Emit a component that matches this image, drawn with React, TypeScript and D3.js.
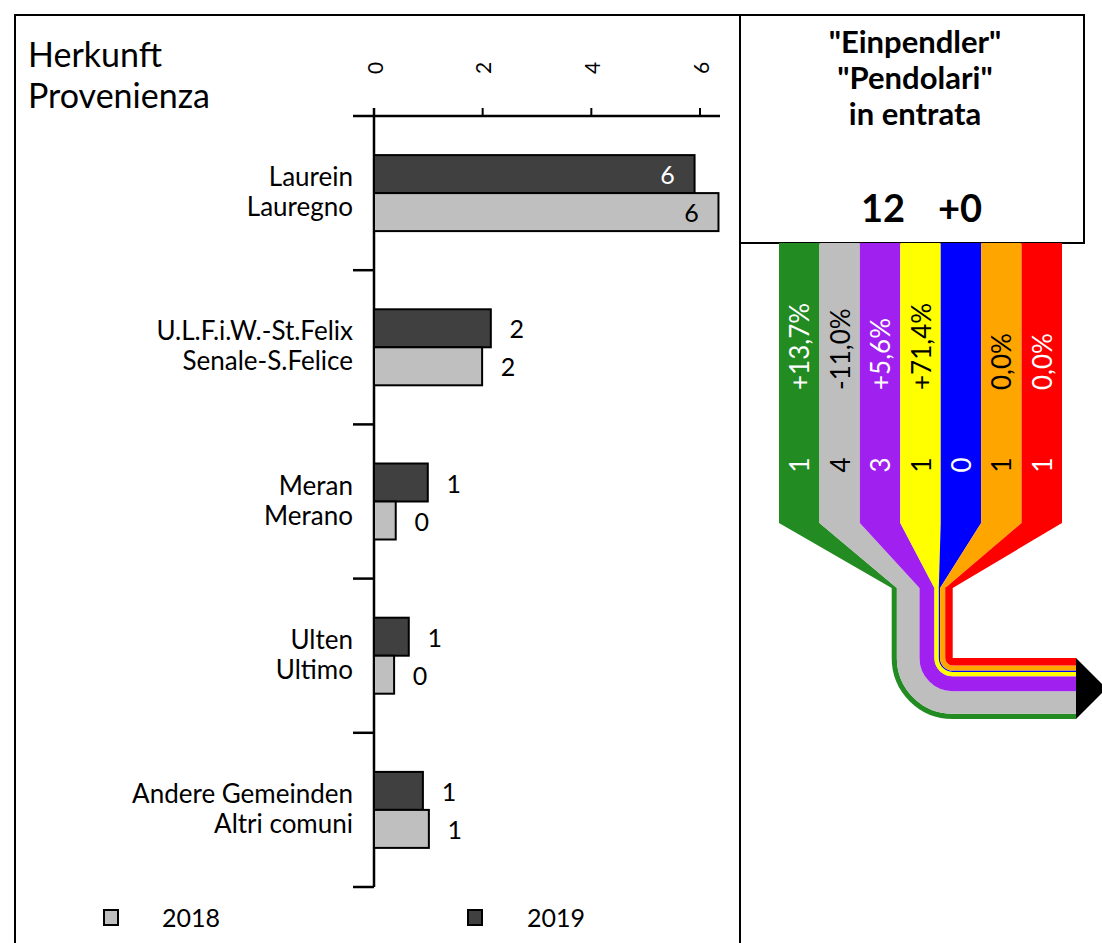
import * as d3 from 'd3';

// Herkunft / Provenienza – bar values (2019 dark, 2018 light)
const categoriesDe = ['Laurein', 'U.L.F.i.W.-St.Felix', 'Meran', 'Ulten', 'Andere Gemeinden'];
const categoriesIt = ['Lauregno', 'Senale-S.Felice', 'Merano', 'Ultimo', 'Altri comuni'];
const values2019 = [5.9, 2.15, 0.99, 0.64, 0.9];
const values2018 = [6.34, 1.99, 0.4, 0.37, 1.01];
const axisTicks = [0, 2, 4, 6];

// Einpendler streams
const streamColors = ['#228B22', '#BEBEBE', '#A020F0', '#FFFF00', '#0000FF', '#FFA500', '#FF0000'];
const streamText = ['white', 'black', 'white', 'black', 'white', 'black', 'white'];
const streamChange = ['+13,7%', '-11,0%', '+5,6%', '+71,4%', '', '0,0%', '0,0%'];
const streamCount = [1, 4, 3, 1, 0, 1, 1];
const streamFlow = [1.0, 4.4, 2.9, 0.85, 0.25, 1.0, 1.45];
const headerLines = ['"Einpendler"', '"Pendolari"', 'in entrata'];
const headerTotal = '12';
const headerDelta = '+0';

const FONT = "Lato, 'Open Sans', sans-serif";
const DARK = '#404040';
const LIGHT = '#BFBFBF';

export default function App() {
  const x = d3.scaleLinear().domain([0, 6]).range([374, 700]);
  const y = d3.scaleBand<string>().domain(categoriesDe).range([116, 887]);
  const barH = 38;
  const fmt = d3.format('.0f');

  // stream layout
  const col = d3.scaleBand<number>().domain(d3.range(streamColors.length)).range([779, 1062]);
  const colTop = 243, colBottom = 523, pipeTop = 588;
  const cx = 952.7, cy = 658, pipeEnd = 1076;
  const total = d3.sum(streamFlow);
  const w = d3.scaleLinear().domain([0, total]).range([0, 61]);
  // radii: innermost is last stream
  const rIn: number[] = [];
  const rOut: number[] = [];
  let acc = 0;
  for (let i = streamFlow.length - 1; i >= 0; i--) {
    rIn[i] = w(acc);
    acc += streamFlow[i];
    rOut[i] = w(acc);
  }
  const outer = w(total);

  const renderBar = (v: number, top: number, fill: string, inside: string) => {
    const end = x(v);
    const isIn = end > 650;
    return (
      <g>
        <rect x={x(0)} y={top} width={end - x(0)} height={barH} fill={fill} stroke="black" strokeWidth={2} />
        <text
          x={isIn ? end - 27 : end + 26}
          y={top + barH / 2}
          textAnchor="middle"
          dominantBaseline="central"
          fontSize={25}
          fill={isIn ? inside : 'black'}
        >
          {fmt(v)}
        </text>
      </g>
    );
  };

  return (
    <svg
      width={1102}
      height={943}
      style={{ position: 'absolute', left: 0, top: 0, display: 'block', background: 'white' }}
      fontFamily={FONT}
    >
      {/* frames */}
      <path d="M15,943 V15 H1084 V243 H740" fill="none" stroke="black" strokeWidth={2} />
      <line x1={740} x2={740} y1={15} y2={943} stroke="black" strokeWidth={2} />

      {/* left title */}
      <text x={28} y={67} fontSize={34}>Herkunft</text>
      <text x={28} y={108} fontSize={34}>Provenienza</text>

      {/* top axis */}
      <line x1={353} x2={720} y1={116} y2={116} stroke="black" strokeWidth={2.5} />
      {axisTicks.map(t => (
        <g key={t}>
          <line x1={x(t)} x2={x(t)} y1={108} y2={116} stroke="black" strokeWidth={2} />
          <text
            transform={`translate(${x(t)},68) rotate(-90)`}
            textAnchor="middle"
            dominantBaseline="central"
            fontSize={21}
          >
            {t}
          </text>
        </g>
      ))}
      <line x1={374} x2={374} y1={108} y2={887} stroke="black" strokeWidth={2.5} />
      {categoriesDe.map(c => (
        <line key={c} x1={353} x2={374} y1={(y(c) ?? 0) + y.bandwidth()} y2={(y(c) ?? 0) + y.bandwidth()} stroke="black" strokeWidth={2.5} />
      ))}

      {/* bars */}
      {categoriesDe.map((c, i) => {
        const mid = (y(c) ?? 0) + y.bandwidth() / 2;
        return (
          <g key={c}>
            <text x={353} y={mid - 7} textAnchor="end" fontSize={26}>{c}</text>
            <text x={353} y={mid + 23} textAnchor="end" fontSize={26}>{categoriesIt[i]}</text>
            {renderBar(values2019[i], mid - barH, DARK, 'white')}
            {renderBar(values2018[i], mid, LIGHT, 'black')}
          </g>
        );
      })}

      {/* legend */}
      <rect x={104} y={910} width={14} height={15} fill={LIGHT} stroke="black" strokeWidth={2} />
      <text x={162} y={927} fontSize={25}>2018</text>
      <rect x={468} y={910} width={14} height={15} fill={DARK} stroke="black" strokeWidth={2} />
      <text x={527} y={927} fontSize={25}>2019</text>

      {/* header */}
      {headerLines.map((l, i) => (
        <text key={l} x={915} y={53 + i * 36} textAnchor="middle" fontSize={31} fontWeight="bold">{l}</text>
      ))}
      <text x={883} y={222} textAnchor="middle" fontSize={38} fontWeight="bold">{headerTotal}</text>
      <text x={960} y={222} textAnchor="middle" fontSize={38} fontWeight="bold">{headerDelta}</text>

      {/* streams */}
      {streamColors.map((color, i) => {
        const x0 = col(i) ?? 0;
        const x1 = x0 + col.bandwidth();
        const px0 = cx - rOut[i];
        const px1 = cx - rIn[i];
        const pts = [[x0, colTop], [x0, colBottom], [px0, pipeTop], [px1, pipeTop], [x1, colBottom], [x1, colTop]];
        const rm = (rIn[i] + rOut[i]) / 2;
        const sw = rOut[i] - rIn[i];
        const pipe = `M${cx - rm},${pipeTop - 0.5} V${cy} A${rm},${rm} 0 0 0 ${cx},${cy + rm} H${pipeEnd}`;
        const cxm = x0 + col.bandwidth() / 2;
        return (
          <g key={color}>
            <polygon points={pts.map(p => p.join(',')).join(' ')} fill={color} />
            <path d={pipe} fill="none" stroke={color} strokeWidth={sw} />
            {streamChange[i] && (
              <text
                transform={`translate(${cxm},390) rotate(-90)`}
                textAnchor="start"
                dominantBaseline="central"
                fontSize={26}
                fill={streamText[i]}
              >
                {streamChange[i]}
              </text>
            )}
            <text
              transform={`translate(${cxm},465) rotate(-90)`}
              textAnchor="middle"
              dominantBaseline="central"
              fontSize={26}
              fill={streamText[i]}
            >
              {streamCount[i]}
            </text>
          </g>
        );
      })}
      {/* arrow head */}
      <polygon
        points={`${pipeEnd},${cy} ${pipeEnd + outer / 2},${cy + outer / 2} ${pipeEnd},${cy + outer}`}
        fill="black"
      />
    </svg>
  );
}
